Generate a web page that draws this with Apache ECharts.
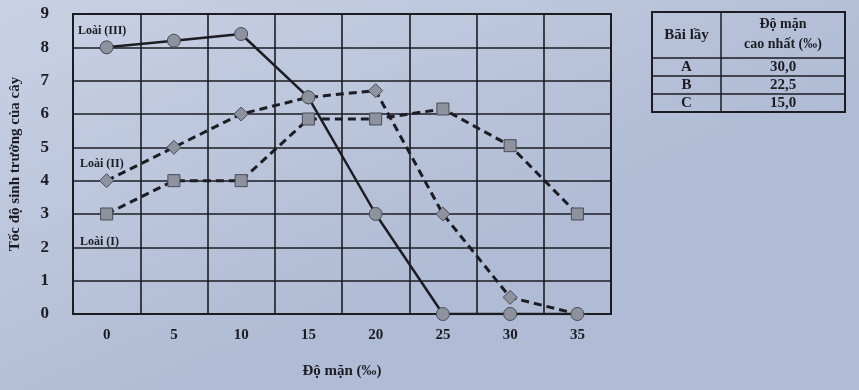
<!DOCTYPE html>
<html>
<head>
<meta charset="utf-8">
<script src="https://cdn.jsdelivr.net/npm/echarts@6/dist/echarts.min.js"></script>
<style>html,body{margin:0;padding:0;}#c{width:859px;height:390px;}</style>
</head>
<body>
<div id="c"></div>
<script>
const categories = ['0', '5', '10', '15', '20', '25', '30', '35'];
const loai3 = [8.0, 8.2, 8.4, 6.5, 3.0, 0, 0, 0];
const loai2 = [4.0, 5.0, 6.0, 6.5, 6.7, 3.0, 0.5, 0];
const loai1 = [3.0, 4.0, 4.0, 5.85, 5.85, 6.15, 5.05, 3.0];
const yTicks = [0, 1, 2, 3, 4, 5, 6, 7, 8, 9];
const tableHeader = ['Bãi lầy', 'Độ mặn', 'cao nhất (‰)'];
const tableRows = [['A', '30,0'], ['B', '22,5'], ['C', '15,0']];

const FONT = '"Liberation Serif", "DejaVu Serif", serif';
const ink = '#1c1c22';
const chart = echarts.init(document.getElementById('c'));

const tx = (text, x, y, size, align) => ({
  type: 'text', x: x, y: y,
  style: { text: text, fill: ink, font: 'bold ' + size + 'px ' + FONT, align: align || 'center', verticalAlign: 'middle' }
});

const graphics = [];
// partially cut-off title
graphics.push({type:'text', x: 440, y: -8, style:{text:'Ảnh hưởng của độ mặn lên tốc độ sinh trưởng', fill:'#2a2a33', font:'italic 16px ' + FONT, align:'center', verticalAlign:'middle'}});
// series labels
graphics.push(tx('Loài (III)', 78, 31, 12, 'left'));
graphics.push(tx('Loài (II)', 80, 164, 12, 'left'));
graphics.push(tx('Loài (I)', 80, 242, 12, 'left'));
// table
const tX = 652, tY = 12, tW = 193, col = 721;
const rowY = [12, 58, 76, 94, 112];
graphics.push({type:'rect', shape:{x:tX, y:tY, width:tW, height:rowY[4]-tY}, style:{fill:'none', stroke:ink, lineWidth:2}});
for (let i = 1; i < 4; i++) graphics.push({type:'line', shape:{x1:tX, y1:rowY[i], x2:tX+tW, y2:rowY[i]}, style:{stroke:ink, lineWidth:1.5}});
graphics.push({type:'line', shape:{x1:col, y1:tY, x2:col, y2:rowY[4]}, style:{stroke:ink, lineWidth:1.5}});
graphics.push(tx(tableHeader[0], (tX+col)/2, 35, 15));
graphics.push(tx(tableHeader[1], (col+tX+tW)/2, 24, 14));
graphics.push(tx(tableHeader[2], (col+tX+tW)/2, 44, 14));
tableRows.forEach((r, i) => {
  const cy = (rowY[i+1] + rowY[i+2]) / 2;
  graphics.push(tx(r[0], (tX+col)/2, cy, 15));
  graphics.push(tx(r[1], (col+tX+tW)/2, cy, 15));
});

const symStyle = { color: '#8d929e', borderColor: '#4a4d55', borderWidth: 1 };

chart.setOption({
  backgroundColor: { type:'linear', x:0, y:0, x2:0.2, y2:1, colorStops:[{offset:0,color:'#c9d1e4'},{offset:1,color:'#b0bcd5'}] },
  animation: false,
  grid: { left: 70, top: 14, width: 541, height: 300, show: true, borderColor: ink, borderWidth: 2, backgroundColor: 'transparent' },
  xAxis: {
    type: 'category', data: categories, boundaryGap: true,
    name: 'Độ mặn (‰)', nameLocation: 'middle', nameGap: 50,
    nameTextStyle: { color: ink, fontFamily: FONT, fontWeight: 'bold', fontSize: 15 },
    axisLine: { lineStyle: { color: ink, width: 2 } },
    axisTick: { show: false },
    axisLabel: { color: ink, fontFamily: FONT, fontWeight: 'bold', fontSize: 15, margin: 14 },
    splitLine: { show: true, lineStyle: { color: ink, width: 1.6 } }
  },
  yAxis: {
    type: 'value', min: 0, max: 9, interval: 1,
    name: 'Tốc độ sinh trưởng của cây', nameLocation: 'middle', nameGap: 50,
    nameTextStyle: { color: ink, fontFamily: FONT, fontWeight: 'bold', fontSize: 15 },
    axisLine: { show: true, lineStyle: { color: ink, width: 2 } },
    axisTick: { show: false },
    axisLabel: { color: ink, fontFamily: FONT, fontWeight: 'bold', fontSize: 17, margin: 24,
      formatter: v => yTicks.includes(v) ? String(v) : '' },
    splitLine: { show: true, lineStyle: { color: ink, width: 1.6 } }
  },
  series: [
    { name: 'Loài (I)', type: 'line', data: loai1, symbol: 'rect', symbolSize: 12,
      lineStyle: { color: ink, width: 3, type: [8, 5] }, itemStyle: symStyle, z: 3 },
    { name: 'Loài (II)', type: 'line', data: loai2, symbol: 'diamond', symbolSize: 14,
      lineStyle: { color: ink, width: 3, type: [8, 5] }, itemStyle: symStyle, z: 4 },
    { name: 'Loài (III)', type: 'line', data: loai3, symbol: 'circle', symbolSize: 13,
      lineStyle: { color: ink, width: 2.5 }, itemStyle: symStyle, z: 5 }
  ],
  graphic: graphics
});
</script>
</body>
</html>
